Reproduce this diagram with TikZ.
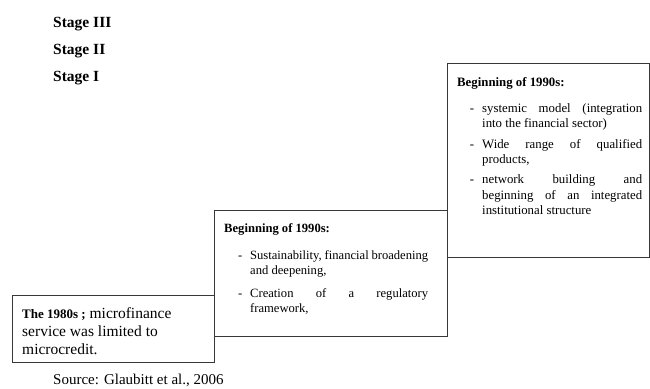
\documentclass[tikz,border=0pt]{standalone}
\usepackage{fontspec}
\setmainfont{Liberation Serif}
\tikzset{
  stagebox/.style={draw=black!78, line width=1pt, anchor=north west, inner sep=0pt},
  txt/.style={anchor=base west, inner sep=0pt, text=black},
}
\newcommand\dashitem[1]{\par\noindent\llap{-\hspace{#1}}}
\begin{document}
\begin{tikzpicture}[x=1pt,y=-1pt]
\useasboundingbox (0,0) rectangle (650,388);
% boxes
\node[stagebox, minimum width=202pt, minimum height=67pt] (b1) at (12,295) {};
\node[stagebox, minimum width=233pt, minimum height=126pt] (b2) at (214,210) {};
\node[stagebox, minimum width=202pt, minimum height=194pt] (b3) at (447,63) {};
% stage labels
\node[txt, font=\fontsize{15.5}{18}\selectfont\bfseries] (s3) at (53,27.3) {Stage III};
\node[txt, font=\fontsize{15.5}{18}\selectfont\bfseries] (s2) at (53,54) {Stage II};
\node[txt, font=\fontsize{15.5}{18}\selectfont\bfseries] (s1) at (53,81) {Stage I};
% box 3 text
\node[txt] (t3) at (457,86.7) {\parbox[t]{185pt}{\hyphenpenalty=10000\exhyphenpenalty=10000\fontsize{12.8}{15.6}\selectfont
\textbf{Beginning of 1990s:}\par\vspace{10pt}
\leftskip=25pt
\dashitem{8pt}systemic model (integration\linebreak into the financial sector)\par\vspace{4.5pt}
\dashitem{8pt}Wide range of qualified\linebreak products,\par\vspace{4.5pt}
\dashitem{8pt}network building and\linebreak beginning of an integrated\linebreak institutional structure\par}};
% box 2 text
\node[txt] (t2) at (224,232.7) {\parbox[t]{204pt}{\hyphenpenalty=10000\exhyphenpenalty=10000\fontsize{12.6}{15}\selectfont
\textbf{Beginning of 1990s:}\par\vspace{11.6pt}
\leftskip=26pt
\dashitem{8pt}Sustainability, financial broadening\linebreak and deepening,\par\vspace{7.7pt}
\dashitem{8pt}Creation of a regulatory\linebreak framework,\par}};
% box 1 text
\node[txt] (t1) at (22,318.3) {\parbox[t]{190pt}{\raggedright\fontsize{15.5}{18.2}\selectfont
{\fontsize{13}{15}\selectfont\bfseries The 1980s ;} microfinance\\
service was limited to\\
microcredit.}};
% source
\node[txt, font=\fontsize{15}{18}\selectfont] (src) at (53,384) {Source: Glaubitt et al., 2006};
\end{tikzpicture}
\end{document}
